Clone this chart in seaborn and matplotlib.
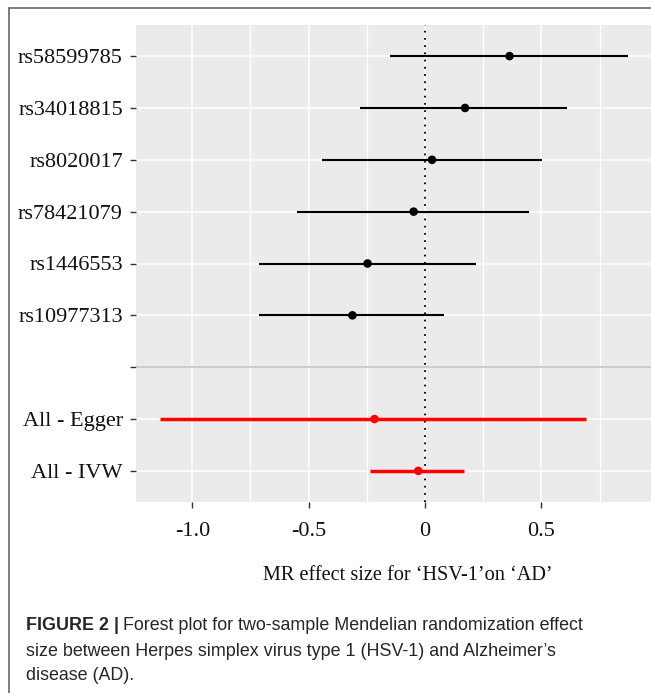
import matplotlib
matplotlib.use("Agg")
import matplotlib.pyplot as plt
from matplotlib.lines import Line2D
import seaborn as sns
import pandas as pd
import numpy as np

# ---- data ----
labels = ["rs58599785", "rs34018815", "rs8020017", "rs78421079", "rs1446553",
          "rs10977313", "", "All - Egger", "All - IVW"]
beta = [0.363, 0.172, 0.030, -0.049, -0.247, -0.312, np.nan, -0.217, -0.029]
lower = [-0.150, -0.280, -0.441, -0.549, -0.712, -0.712, np.nan, -1.141, -0.236]
upper = [0.874, 0.612, 0.503, 0.447, 0.220, 0.083, np.nan, 0.690, 0.169]
kind = ["snp"] * 6 + ["blank"] + ["all", "all"]
xticks = [-1.0, -0.5, 0.0, 0.5]
xticklabels = ["-1.0", "-0.5", "0", "0.5"]
xminor = [-0.75, -0.25, 0.25, 0.75]

df = pd.DataFrame({"label": labels, "b": beta, "lo": lower, "hi": upper, "kind": kind})
df["pos"] = np.arange(len(df))

W, H = 651, 693
sns.set_theme(style="darkgrid")
plt.rcParams["font.family"] = ["Liberation Serif", "DejaVu Serif"]

fig = plt.figure(figsize=(W / 100, H / 100), dpi=100)
fig.patch.set_facecolor("white")
pl, pr, pt, pb = 136, 651, 25, 502
ax = fig.add_axes([pl / W, 1 - pb / H, (pr - pl) / W, (pb - pt) / H])
ax.set_facecolor("#EBEBEB")
for s in ax.spines.values():
    s.set_visible(False)

# grid
ax.grid(False)
for v in xticks:
    ax.axvline(v, color="white", lw=1.1, zorder=0)
for v in xminor:
    ax.axvline(v, color="white", lw=0.9, zorder=0)
for p in df["pos"]:
    ax.axhline(p, color="white", lw=1.1, zorder=0)

# separator line at blank row
blank_pos = df.loc[df["kind"] == "blank", "pos"].iloc[0]
ax.axhline(blank_pos, color="#BEBEBE", lw=1.1, zorder=1)

# zero line
ax.axvline(0, color="black", lw=1.3, linestyle=(0, (1, 3)), zorder=1)

snp = df[df["kind"] == "snp"]
allr = df[df["kind"] == "all"]
ax.hlines(snp["pos"], snp["lo"], snp["hi"], color="black", lw=1.5, zorder=2)
ax.hlines(allr["pos"], allr["lo"], allr["hi"], color="#FF0000", lw=2.5, zorder=2)
sns.scatterplot(data=snp, x="b", y="pos", color="black", s=38, edgecolor="none",
                ax=ax, zorder=3, legend=False)
sns.scatterplot(data=allr, x="b", y="pos", color="#FF0000", s=38, edgecolor="none",
                ax=ax, zorder=3, legend=False)

ax.set_xlim(-1.242, 0.971)
ax.set_ylim(len(df) - 1 + 0.6, -0.6)
ax.set_yticks(df["pos"])
ax.set_yticklabels(df["label"], fontsize=16, color="#111111")
ax.set_xticks(xticks)
ax.set_xticklabels(xticklabels, fontsize=16, color="#111111")
ax.tick_params(axis="both", which="major", length=4.5, width=1.0, color="#333333",
               left=True, bottom=True, pad=5)
ax.tick_params(axis="x", pad=10)
ax.set_ylabel("")
ax.set_xlabel("MR effect size for \u2018HSV-1\u2019on \u2018AD\u2019", fontsize=14.6,
              color="#111111")
ax.xaxis.set_label_coords((407.5 - pl) / (pr - pl), -(575 - pb) / (pb - pt))
ax.xaxis.label.set_va("center")

# border lines of the figure frame
fig.add_artist(Line2D([9 / W, 1], [1 - 8 / H, 1 - 8 / H], color="#666666", lw=1.2,
                      transform=fig.transFigure))
fig.add_artist(Line2D([9 / W, 9 / W], [1 - 8 / H, 0], color="#666666", lw=1.2,
                      transform=fig.transFigure))

# caption
cap_font = ["Liberation Sans", "DejaVu Sans"]
cap_col = "#262626"
cap_size = 12.9
x0 = 26 / W
t1 = fig.text(x0, 1 - 625 / H, "FIGURE 2 |", fontsize=cap_size, fontweight="bold",
              family=cap_font, color=cap_col, va="center", ha="left")
fig.canvas.draw()
bb = t1.get_window_extent(fig.canvas.get_renderer())
fig.text(bb.x1 / W + 4 / W, 1 - 625 / H,
         "Forest plot for two-sample Mendelian randomization effect",
         fontsize=cap_size, family=cap_font, color=cap_col, va="center", ha="left")
fig.text(x0, 1 - 651 / H,
         "size between Herpes simplex virus type 1 (HSV-1) and Alzheimer\u2019s",
         fontsize=cap_size, family=cap_font, color=cap_col, va="center", ha="left")
fig.text(x0, 1 - 676 / H, "disease (AD).",
         fontsize=cap_size, family=cap_font, color=cap_col, va="center", ha="left")

fig.savefig("out.png", dpi=100, facecolor="white")
